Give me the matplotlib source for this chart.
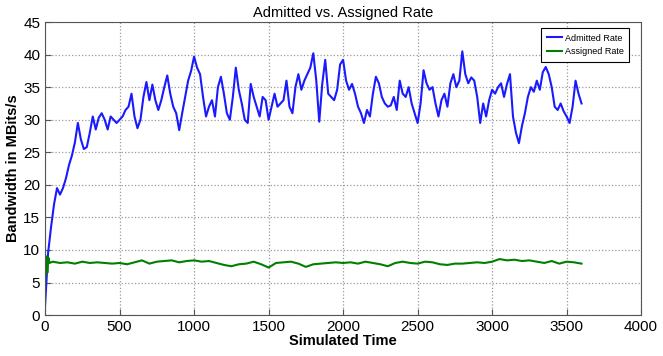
import numpy as np
import matplotlib
matplotlib.use("Agg")
import matplotlib.pyplot as plt

# admitted rate, every 20 time units
admitted_t = list(range(0, 3601, 20))
admitted = [
    1.5, 9.5, 13.5, 17, 19.5, 18.5, 19.5, 21, 23, 24.5,
    26.5, 29.5, 27, 25.5, 25.8, 28, 30.5, 28.5, 30.3, 31,
    30, 28.5, 30.5, 30, 29.5, 30, 30.5, 31.5, 32, 34,
    30.5, 28.7, 30, 33.5, 35.8, 33, 35.4, 33, 31.5, 33,
    35, 36.8, 34, 32, 31, 28.4, 31, 33.5, 36, 37.5,
    39.7, 38, 37, 33.5, 30.5, 32, 33, 30.5, 35, 36.6,
    34, 31, 30, 33.5, 38, 34.6, 32.5, 30, 29.5, 35.5,
    33.5, 32, 30.5, 33.5, 33, 30, 32, 34, 32, 32.5,
    33, 36, 32, 31, 35, 37, 34.6, 36, 37, 38,
    40.2, 36, 29.7, 35.5, 39.2, 34, 33.5, 33, 34.6, 38.5,
    39.2, 36, 34.6, 35.5, 34, 32, 31, 29.5, 31.5, 30.5,
    34, 36.6, 35.6, 33.5, 32.5, 32, 32.2, 33.5, 31.5, 36,
    34, 33.5, 35, 32.5, 31, 29.5, 32.5, 37.6, 35.6, 34.6,
    35, 32.5, 30.5, 33, 34, 32, 35.6, 37, 35, 36,
    40.5, 37, 35.6, 36.5, 36, 33.5, 29.5, 32.5, 30.5, 33,
    34.6, 34, 35, 35.6, 33.5, 35.5, 37, 30.5, 28, 26.4,
    29, 31, 33.5, 35, 34.3, 36, 34.6, 37.3, 38.1, 37,
    35, 32, 31.5, 32.5, 31.3, 30.5, 29.5, 32, 36, 34,
    32.5,
]

# assigned rate
assigned_t = [0, 8, 15, 22, 30] + list(range(50, 3601, 50))
assigned = [
    5.0, 9.0, 6.5, 8.8, 8.0,
    8.2, 8.0, 8.1, 7.9, 8.2, 8.0, 8.1, 8.0, 7.9, 8.0,
    7.8, 8.1, 8.4, 7.9, 8.2, 8.3, 8.4, 8.1, 8.3, 8.4,
    8.2, 8.3, 8.0, 7.7, 7.5, 7.8, 7.9, 8.2, 7.8, 7.3,
    8.0, 8.1, 8.2, 7.9, 7.4, 7.8, 7.9, 8.0, 8.1, 8.0,
    8.1, 7.9, 8.2, 8.0, 7.8, 7.5, 8.0, 8.2, 8.0, 7.9,
    8.2, 8.1, 7.8, 7.7, 7.9, 7.9, 8.0, 8.1, 8.0, 8.2,
    8.6, 8.4, 8.5, 8.3, 8.4, 8.2, 8.0, 8.3, 7.9, 8.2,
    8.1, 7.9,
]

plt.rcParams["font.family"] = ["Liberation Sans", "DejaVu Sans"]

fig = plt.figure(figsize=(6.63, 3.56), dpi=100)
ax = fig.add_axes([0.068, 0.115, 0.899, 0.823])

ax.plot(admitted_t, admitted, color=(0.1, 0.1, 1), lw=1.5, label="Admitted Rate")
ax.plot(assigned_t, assigned, color=(0, 0.5, 0), lw=1.5, label="Assigned Rate")

ax.set_xlim(0, 4000)
ax.set_ylim(0, 45)
ax.set_xticks(np.arange(0, 4001, 500))
ax.set_yticks(np.arange(0, 46, 5))
ax.tick_params(direction="in", labelsize=11, length=4, color="#555555")
for sp in ax.spines.values():
    sp.set_color("#555555")
ax.grid(True, linestyle=":", color="#999999", linewidth=0.9)

ax.set_title("Admitted vs. Assigned Rate", fontsize=10.5, pad=4)
ax.set_xlabel("Simulated Time", fontsize=10.5, fontweight="bold", labelpad=0)
ax.set_ylabel("Bandwidth in MBits/s", fontsize=10.5, fontweight="bold", labelpad=2)

lg = ax.legend(loc="upper right", bbox_to_anchor=(0.98, 0.979), borderaxespad=0,
               fontsize=6.5, fancybox=False, framealpha=1, edgecolor="black",
               handlelength=1.7, handletextpad=0.3, borderpad=0.6,
               labelspacing=0.5)
lg.get_frame().set_linewidth(0.8)

fig.savefig("out.png", dpi=100)
